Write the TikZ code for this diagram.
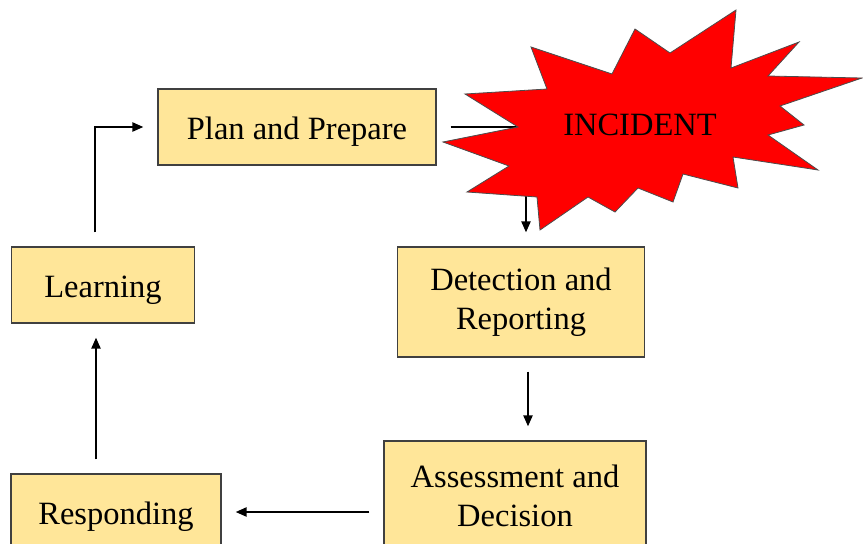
\documentclass[tikz,border=0pt]{standalone}
\usepackage{fontspec}
\setmainfont{Liberation Serif}
\usepackage{tikz}
\usetikzlibrary{arrows.meta, positioning}
\definecolor{stagefill}{RGB}{255,230,153}
\definecolor{stageline}{RGB}{64,64,64}
\tikzstyle{stage} = [
    rectangle,
    minimum height=76pt,
    text centered,
    draw=stageline,
    line width=1.2pt,
    fill=stagefill,
    font=\rmfamily\fontsize{32.5}{39}\selectfont
]
\tikzstyle{oneline} = [text height=30pt, text depth=5pt]
\tikzstyle{burst} = [
    draw=black!70,
    line width=0.8pt,
    fill=red
]
\tikzstyle{arrow} = [line width=2.2pt,-{Triangle[length=11pt,width=9pt]},shorten <=14pt,shorten >=14pt]

\begin{document}
\begin{tikzpicture}[x=1pt, y=-1pt, node distance=158pt]
\clip (0,0) rectangle (863,544);

% Nodes
\node (plan) [stage, oneline, minimum width=278pt] at (297,127) {Plan and Prepare};
\node (learn) [stage, oneline, minimum width=183pt, below of=plan, xshift=-194pt] {Learning};
\node (detect) [stage, align=center, minimum width=247pt, minimum height=110pt, below of=plan, xshift=224pt, yshift=-17pt] {Detection and\\Reporting};
\node (assess) [stage, align=center, minimum width=262pt, minimum height=110pt, below of=detect, xshift=-6pt, yshift=-36pt] {Assessment and\\Decision};
\node (resp) [stage, oneline, minimum width=210pt, below of=learn, xshift=13pt, yshift=-69pt] {Responding};

% Arrows
\draw [arrow] ([xshift=-8pt]learn.north) |- (plan.west);
\draw [arrow] (plan.east) -| ([xshift=5pt]detect.north);
\draw [arrow] ([xshift=7pt]detect.south) -- ([xshift=7pt]detect.south |- assess.north);
\draw [arrow] (assess.west |- resp.east) -- (resp.east);
\draw [arrow] ([xshift=-20pt]resp.north) -- ([xshift=-20pt]resp.north |- learn.south);

% Incident
\draw [burst] (465,94) -- (547,89) -- (531,47) -- (612,74) -- (635,29) -- (670,53)
    -- (736,10) -- (731,68) -- (799,42) -- (768,76) -- (862,78) -- (780,106)
    -- (804,125) -- (768,135) -- (818,170) -- (733,157) -- (738,188) -- (683,174)
    -- (673,202) -- (638,188) -- (615,212) -- (588,197) -- (540,230) -- (537,197)
    -- (467,192) -- (509,166) -- (443,142) -- (518,127) -- cycle;
\node (incident) [font=\rmfamily\fontsize{32.5}{39}\selectfont] at (640,125) {INCIDENT};

\end{tikzpicture}
\end{document}
